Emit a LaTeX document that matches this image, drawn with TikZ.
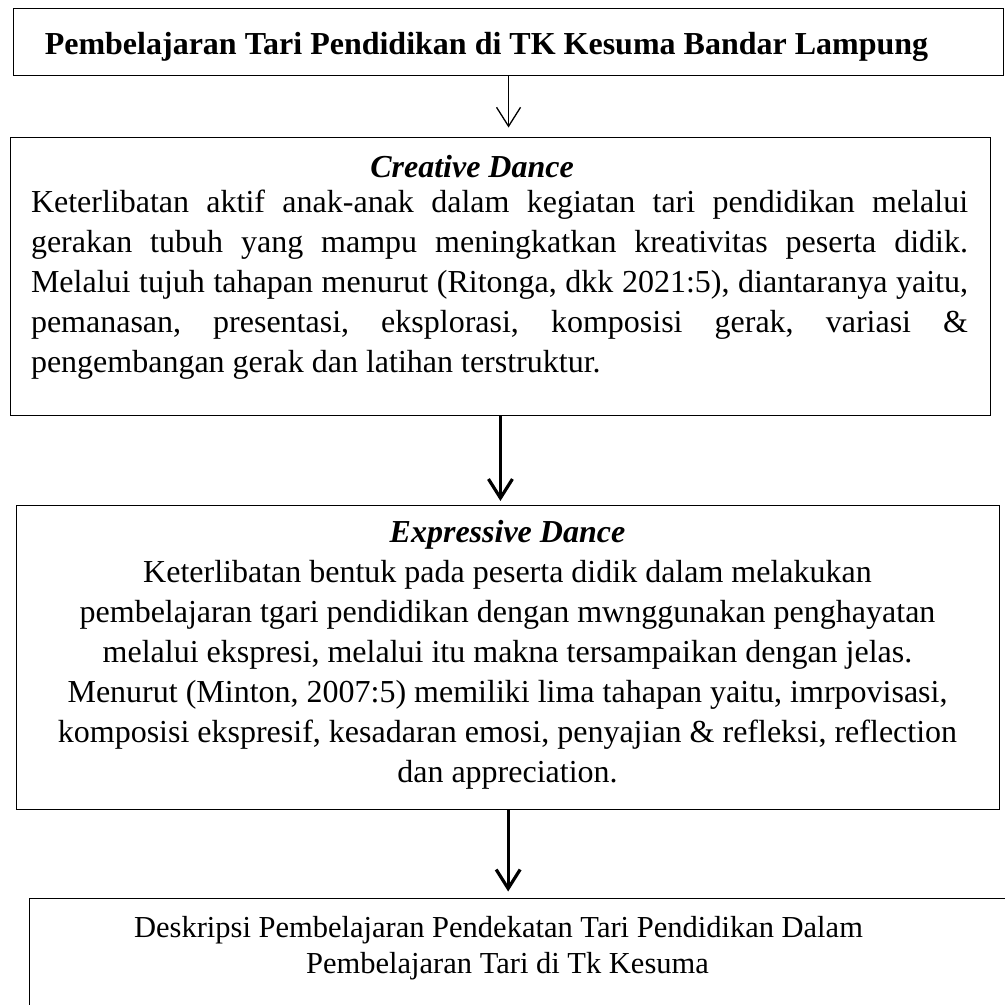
\documentclass[tikz,border=0pt]{standalone}
\usepackage{fontspec}
\setmainfont{Liberation Serif}
\usetikzlibrary{arrows.meta}
\newcommand\jline[1]{\hbox to 937pt{#1}}
\newcommand\ctrline[1]{\hbox to 980pt{\hfil#1\hfil}}
\begin{document}
\begin{tikzpicture}[x=1pt,y=-1pt,
  box/.style={draw=black,line width=1.3pt,inner sep=0pt,anchor=north west},
  txt/.style={inner sep=0pt,anchor=base,font=\fontsize{32}{40}\selectfont\frenchspacing},
  thinarrow/.style={line width=1.3pt,-{Straight Barb[length=19pt,width=24pt]}},
  thickarrow/.style={line width=3.2pt,-{Straight Barb[length=19pt,width=24pt]}}]
\useasboundingbox (0,0) rectangle (1005,1005);
\clip (0,0) rectangle (1005,1005);
\fill[white] (0,0) rectangle (1005,1005);
% boxes
\node[box,minimum width=990.2pt,minimum height=67.3pt] (b1) at (12.8,7.7) {};
\node[box,minimum width=980.4pt,minimum height=278.5pt] (b2) at (9.6,136.5) {};
\node[box,minimum width=983pt,minimum height=304pt] (b3) at (16,505) {};
\node[box,minimum width=1000pt,minimum height=130pt] (b4) at (29,897.5) {};
% texts
\node[txt,font=\fontsize{32}{40}\selectfont\bfseries] (t1) at (486.5,54.5)
  {Pembelajaran Tari Pendidikan di TK Kesuma Bandar Lampung};
\node[txt,font=\fontsize{32}{40}\selectfont\bfseries\itshape] (h2) at (472,177) {Creative Dance};
\node[txt,anchor=base west] (p2) at (30.8,212) {\vtop{\baselineskip=40pt
  \jline{Keterlibatan aktif anak-anak dalam kegiatan tari pendidikan melalui}
  \jline{gerakan tubuh yang mampu meningkatkan kreativitas peserta didik.}
  \jline{Melalui tujuh tahapan menurut (Ritonga, dkk 2021:5), diantaranya yaitu,}
  \jline{pemanasan, presentasi, eksplorasi, komposisi gerak, variasi \&}
  \hbox{pengembangan gerak dan latihan terstruktur.}}};
\node[txt] (p3) at (507.5,542) {\vtop{\baselineskip=40pt
  \ctrline{\bfseries\itshape Expressive Dance}
  \ctrline{Keterlibatan bentuk pada peserta didik dalam melakukan}
  \ctrline{pembelajaran tgari pendidikan dengan mwnggunakan penghayatan}
  \ctrline{melalui ekspresi, melalui itu makna tersampaikan dengan jelas.}
  \ctrline{Menurut (Minton, 2007:5) memiliki lima tahapan yaitu, imrpovisasi,}
  \ctrline{komposisi ekspresif, kesadaran emosi, penyajian \& refleksi, reflection}
  \ctrline{dan appreciation.}}};
\node[txt,font=\fontsize{30.5}{36}\selectfont\frenchspacing] (p4) at (503,937) {\vtop{\baselineskip=36pt
  \hbox to 900pt{\hfil Deskripsi Pembelajaran Pendekatan Tari Pendidikan Dalam\hfil\kern9pt}
  \hbox to 900pt{\kern9pt\hfil Pembelajaran Tari di Tk Kesuma\hfil}}};
% connectors
\draw[thinarrow,shorten >=9pt] (b1.south) -- (b1.south |- b2.north);
\draw[thickarrow,shorten >=4pt] (b2.south) -- (b2.south |- b3.north);
\draw[thickarrow,shorten >=6pt] (b3.south) -- (b3.south |- b4.north);
\end{tikzpicture}
\end{document}
